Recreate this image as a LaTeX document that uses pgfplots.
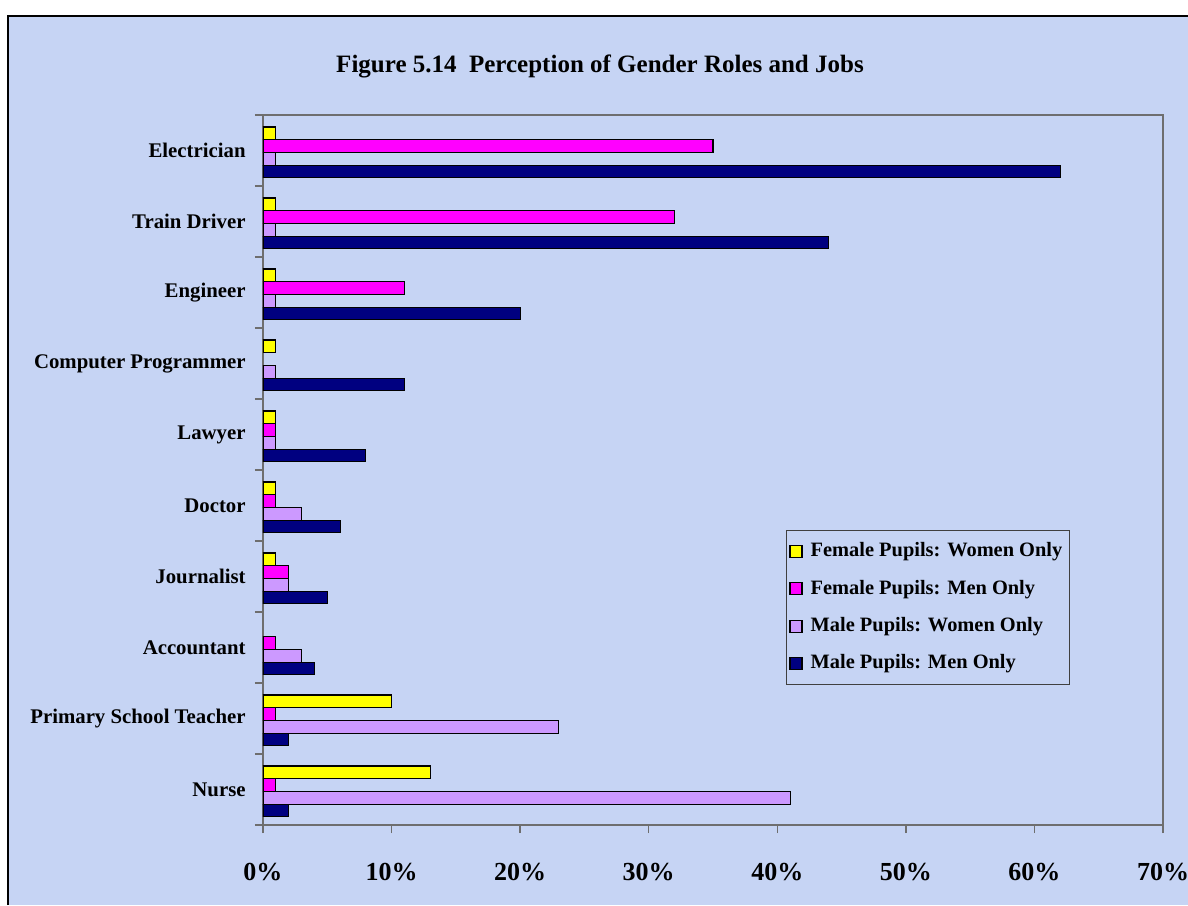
\documentclass[border=0pt]{standalone}
\usepackage{fontspec}
\setmainfont{Liberation Serif}
\usepackage{pgfplots}
\pgfplotsset{compat=1.18}
\definecolor{bgc}{RGB}{198,212,244}
\definecolor{cyel}{RGB}{255,255,0}
\definecolor{cmag}{RGB}{255,0,255}
\definecolor{clil}{RGB}{204,153,255}
\definecolor{cnav}{RGB}{0,0,128}
\definecolor{axgray}{RGB}{110,110,110}
\begin{document}
\begin{tikzpicture}
\useasboundingbox (-131.5pt,-40pt) rectangle (462.5pt,412.5pt);
\fill[white] (-131.5pt,-40pt) rectangle (462.5pt,412.5pt);
\fill[bgc] (-127.5pt,-40pt) rectangle (462.5pt,404.5pt);
\draw[black,line width=0.8pt] (-127.5pt,-40pt) -- (-127.5pt,404.5pt) -- (462.5pt,404.5pt);
\node[font=\bfseries\fontsize{12.5}{14}\selectfont,anchor=base] at (168.5pt,376pt) {Figure 5.14\ \ Perception of Gender Roles and Jobs};
\begin{axis}[
  xbar,
  scale only axis,
  width=450pt, height=355pt,
  at={(0pt,0pt)}, anchor=south west,
  xmin=0, xmax=70, ymin=-0.5, ymax=9.5,
  bar width=6.35pt,
  axis line style={draw=axgray, line width=0.7pt},
  tick style={draw=axgray, line width=0.7pt},
  tick align=outside,
  major tick length=4pt,
  xtick pos=bottom, ytick pos=left,
  xtick={0,10,...,70},
  xticklabels={0\%,10\%,20\%,30\%,40\%,50\%,60\%,70\%},
  xticklabel style={font=\bfseries\fontsize{13}{15}\selectfont, anchor=center, yshift=-19.5pt},
  ytick={-0.5,0.5,...,8.5},
  yticklabels={Nurse,Primary School Teacher,Accountant,Journalist,Doctor,Lawyer,Computer Programmer,Engineer,Train Driver,Electrician},
  yticklabel style={font=\bfseries\fontsize{10.4}{12}\selectfont, anchor=east, inner sep=0pt, yshift=17.75pt, xshift=-4.5pt},
  extra y ticks={9.5}, extra y tick labels={},
  legend cell align=left,
  reverse legend,
  legend image code/.code={\draw[#1,line width=0.6pt] (0pt,-3pt) rectangle (6pt,3pt);},
  legend style={at={(0.581,0.4155)}, anchor=north west, draw=black!75, line width=0.6pt, fill=none,
    font=\bfseries\fontsize{10.2}{12}\selectfont, row sep=6pt, inner xsep=1.5pt, inner ysep=4pt,
    nodes={inner ysep=1.5pt, text height=7.5pt, text depth=2.2pt},
    /tikz/every odd column/.append style={column sep=2pt}},
]
\addplot[fill=cnav, draw=black, line width=0.6pt, bar shift=-10.5pt] coordinates {
 (2,0) (2,1) (4,2) (5,3) (6,4) (8,5) (11,6) (20,7) (44,8) (62,9)};
\addlegendentry{Male Pupils: Men Only}
\addplot[fill=clil, draw=black, line width=0.6pt, bar shift=-4.15pt] coordinates {
 (41,0) (23,1) (3,2) (2,3) (3,4) (1,5) (1,6) (1,7) (1,8) (1,9)};
\addlegendentry{Male Pupils: Women Only}
\addplot[fill=cmag, draw=black, line width=0.6pt, bar shift=2.2pt] coordinates {
 (1,0) (1,1) (1,2) (2,3) (1,4) (1,5) (11,7) (32,8) (35,9)};
\addlegendentry{Female Pupils: Men Only}
\addplot[fill=cyel, draw=black, line width=0.6pt, bar shift=8.55pt] coordinates {
 (13,0) (10,1) (1,3) (1,4) (1,5) (1,6) (1,7) (1,8) (1,9)};
\addlegendentry{Female Pupils: Women Only}
\end{axis}
\end{tikzpicture}
\end{document}
